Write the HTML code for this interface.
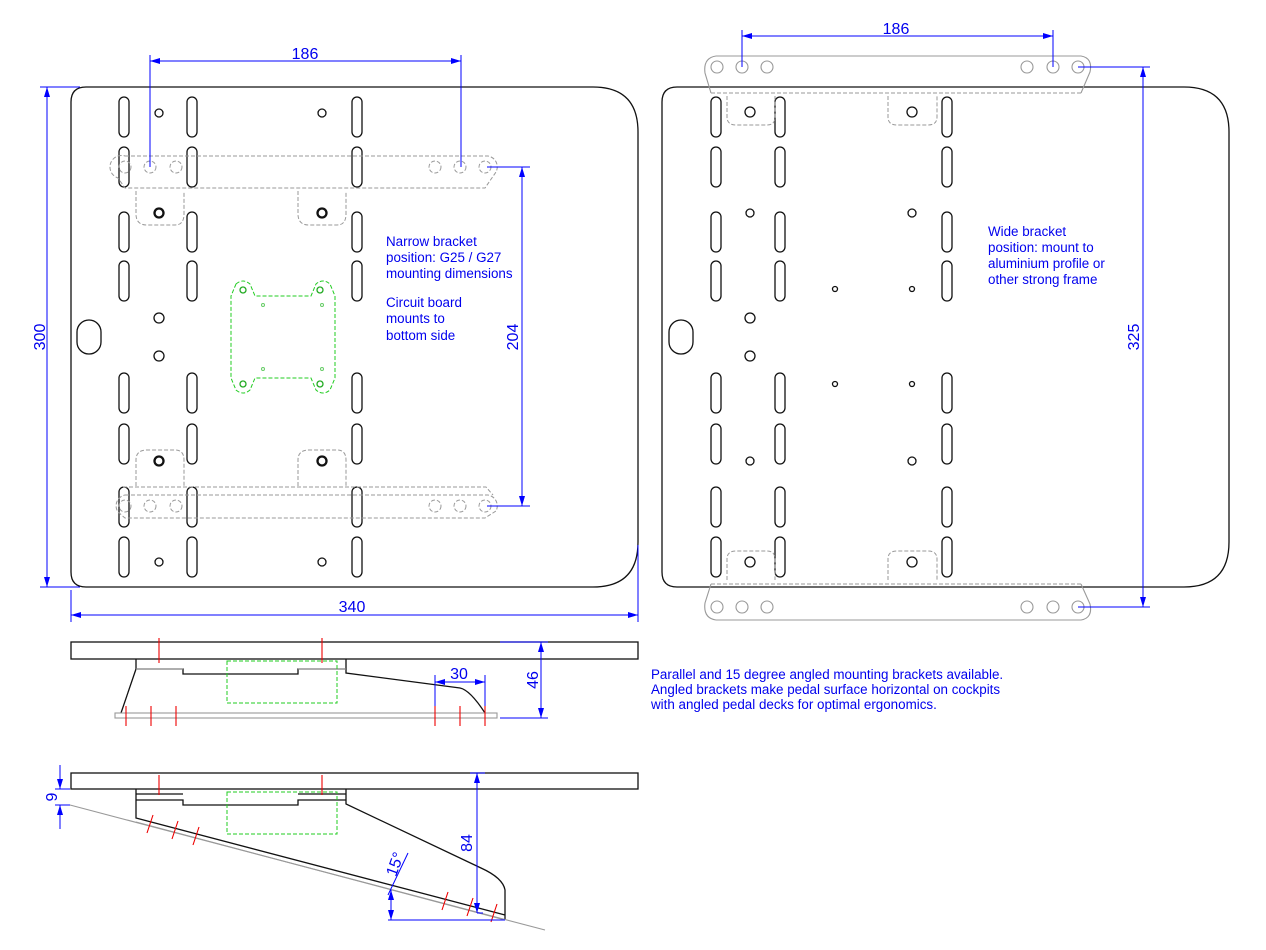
<!DOCTYPE html>
<html><head><meta charset="utf-8"><style>
html,body{margin:0;padding:0;background:#fff;}
svg{display:block;font-family:"Liberation Sans",Arial,sans-serif;}
.k{fill:none;stroke:#111;stroke-width:1.3}
.d{fill:none;stroke:#999;stroke-width:1;stroke-dasharray:4 2}
.g{fill:none;stroke:#999;stroke-width:1.1}
.gr{fill:none;stroke:#2c2;stroke-width:1;stroke-dasharray:4 2}
.b{fill:none;stroke:#00f;stroke-width:1}
.r{stroke:#e00;stroke-width:1.1}
.t{fill:#00e;font-size:13.4px}
.tl{fill:#00e;font-size:16px}
</style></head><body>
<svg width="1266" height="950" viewBox="0 0 1266 950">
<defs>
<rect id="s" x="-5" y="-20" width="10" height="40" rx="5" class="k"/>
<circle id="h" r="4" class="k"/>
<marker id="a" viewBox="0 0 10 6" refX="10" refY="3" markerWidth="10" markerHeight="6" orient="auto-start-reverse" markerUnits="userSpaceOnUse"><path d="M0,0L10,3L0,6z" fill="#00f"/></marker>
</defs>

<!-- LEFT PLATE -->
<path class="k" d="M86,87 H593 Q638,87 638,132 V542 Q638,587 593,587 H86 Q71,587 71,572 V102 Q71,87 86,87 Z"/>
<g>
<use href="#s" x="124" y="117"/><use href="#s" x="124" y="167"/><use href="#s" x="124" y="232"/><use href="#s" x="124" y="281"/>
<use href="#s" x="124" y="393"/><use href="#s" x="124" y="444"/><use href="#s" x="124" y="507"/><use href="#s" x="124" y="557"/>
<use href="#s" x="192" y="117"/><use href="#s" x="192" y="167"/><use href="#s" x="192" y="232"/><use href="#s" x="192" y="281"/>
<use href="#s" x="192" y="393"/><use href="#s" x="192" y="444"/><use href="#s" x="192" y="507"/><use href="#s" x="192" y="557"/>
<use href="#s" x="357" y="117"/><use href="#s" x="357" y="167"/><use href="#s" x="357" y="232"/><use href="#s" x="357" y="281"/>
<use href="#s" x="357" y="393"/><use href="#s" x="357" y="444"/><use href="#s" x="357" y="507"/><use href="#s" x="357" y="557"/>
<use href="#h" x="159" y="113"/><use href="#h" x="322" y="113"/><use href="#h" x="159" y="213"/><use href="#h" x="322" y="213"/>
<use href="#h" x="159" y="461"/><use href="#h" x="322" y="461"/><use href="#h" x="159" y="562"/><use href="#h" x="322" y="562"/>
<circle cx="159" cy="318" r="5" class="k"/><circle cx="159" cy="356" r="5" class="k"/>
<rect x="77" y="320" width="24" height="34" rx="12" class="k"/>
</g>
<path class="d" d="M125,156 H488 A11,11 0 0 1 496,172 L485,188 H125 L118,178 A11,11 0 0 1 125,156 Z"/>
<path class="d" d="M136,191 V214 Q136,225 147,225 H175 Q184,225 184,214 V191 M298,191 V214 Q298,225 309,225 H337 Q346,225 346,214 V191"/>
<g class="d"><circle cx="125" cy="167" r="6"/><circle cx="150" cy="167" r="6"/><circle cx="176" cy="167" r="6"/><circle cx="435" cy="167" r="6"/><circle cx="460" cy="167" r="6"/><circle cx="485" cy="167" r="6"/></g>
<path class="d" d="M125,495 H488 A11,11 0 0 1 496,511 L485,518 H125 L118,512 A11,11 0 0 1 125,495 Z M123,487 H486 L493,495"/>
<path class="d" d="M136,486 V460 Q136,450 147,450 H175 Q184,450 184,460 V486 M298,486 V460 Q298,450 309,450 H337 Q346,450 346,460 V486"/>
<g class="d"><circle cx="125" cy="506" r="6"/><circle cx="150" cy="506" r="6"/><circle cx="176" cy="506" r="6"/><circle cx="435" cy="506" r="6"/><circle cx="460" cy="506" r="6"/><circle cx="485" cy="506" r="6"/></g>
<circle cx="159" cy="213" r="5" class="k"/><circle cx="322" cy="213" r="5" class="k"/><circle cx="159" cy="461" r="5" class="k"/><circle cx="322" cy="461" r="5" class="k"/>
<path class="gr" d="M236,284 Q243,278 250,284 L255,296 H311 L316,284 Q323,278 330,284 L335,296 V378 L330,390 Q323,396 316,390 L311,378 H255 L250,390 Q243,396 236,390 L231,378 V296 Z"/>
<g fill="none" stroke="#2a2" stroke-width="1.3"><circle cx="243" cy="290" r="3"/><circle cx="320" cy="290" r="3"/><circle cx="243" cy="384" r="3"/><circle cx="320" cy="384" r="3"/></g>
<g fill="none" stroke="#6c6" stroke-width="1"><circle cx="263" cy="305" r="1.5"/><circle cx="322" cy="305" r="1.5"/><circle cx="263" cy="369" r="1.5"/><circle cx="322" cy="369" r="1.5"/></g>

<g class="b">
<line x1="150" y1="55" x2="150" y2="167"/><line x1="461" y1="55" x2="461" y2="167"/>
<line x1="150" y1="61" x2="461" y2="61" marker-start="url(#a)" marker-end="url(#a)"/>
<line x1="40" y1="87" x2="80" y2="87"/><line x1="40" y1="587" x2="80" y2="587"/>
<line x1="47" y1="87" x2="47" y2="587" marker-start="url(#a)" marker-end="url(#a)"/>
<line x1="71" y1="590" x2="71" y2="622"/><line x1="638" y1="545" x2="638" y2="622"/>
<line x1="71" y1="615" x2="638" y2="615" marker-start="url(#a)" marker-end="url(#a)"/>
<line x1="487" y1="167" x2="530" y2="167"/><line x1="487" y1="506" x2="530" y2="506"/>
<line x1="522" y1="167" x2="522" y2="506" marker-start="url(#a)" marker-end="url(#a)"/>
</g>
<text class="tl" x="305" y="59" text-anchor="middle">186</text>
<text class="tl" x="352" y="612" text-anchor="middle">340</text>
<text class="tl" transform="translate(45,337) rotate(-90)" text-anchor="middle">300</text>
<text class="tl" transform="translate(518,337) rotate(-90)" text-anchor="middle">204</text>
<text class="t" x="386" y="246">Narrow bracket</text>
<text class="t" x="386" y="262">position: G25 / G27</text>
<text class="t" x="386" y="278">mounting dimensions</text>
<text class="t" x="386" y="307">Circuit board</text>
<text class="t" x="386" y="323">mounts to</text>
<text class="t" x="386" y="340">bottom side</text>

<!-- RIGHT PLATE -->
<path class="k" d="M677,87 H1184 Q1229,87 1229,132 V542 Q1229,587 1184,587 H677 Q662,587 662,572 V102 Q662,87 677,87 Z"/>
<g>
<use href="#s" x="716" y="117"/><use href="#s" x="716" y="167"/><use href="#s" x="716" y="232"/><use href="#s" x="716" y="281"/>
<use href="#s" x="716" y="393"/><use href="#s" x="716" y="444"/><use href="#s" x="716" y="507"/><use href="#s" x="716" y="557"/>
<use href="#s" x="780" y="117"/><use href="#s" x="780" y="167"/><use href="#s" x="780" y="232"/><use href="#s" x="780" y="281"/>
<use href="#s" x="780" y="393"/><use href="#s" x="780" y="444"/><use href="#s" x="780" y="507"/><use href="#s" x="780" y="557"/>
<use href="#s" x="947" y="117"/><use href="#s" x="947" y="167"/><use href="#s" x="947" y="232"/><use href="#s" x="947" y="281"/>
<use href="#s" x="947" y="393"/><use href="#s" x="947" y="444"/><use href="#s" x="947" y="507"/><use href="#s" x="947" y="557"/>
<use href="#h" x="750" y="213"/><use href="#h" x="912" y="213"/><use href="#h" x="750" y="461"/><use href="#h" x="912" y="461"/>
<circle cx="835" cy="289" r="2.5" class="k"/><circle cx="912" cy="289" r="2.5" class="k"/><circle cx="835" cy="384" r="2.5" class="k"/><circle cx="912" cy="384" r="2.5" class="k"/>
<circle cx="750" cy="318" r="5" class="k"/><circle cx="750" cy="356" r="5" class="k"/>
<rect x="669" y="320" width="24" height="34" rx="12" class="k"/>
</g>
<path class="g" d="M716,56 H1081 Q1093,58 1090,72 L1081,93 M711,93 L705,73 Q703,58 716,56"/>
<path class="d" d="M711,93 H1081 M727,96 V117 Q727,125 736,125 H767 Q775,125 775,117 V96 M888,96 V117 Q888,125 897,125 H928 Q937,125 937,117 V96"/>
<g class="g"><circle cx="717" cy="67" r="6"/><circle cx="742" cy="67" r="6"/><circle cx="767" cy="67" r="6"/><circle cx="1027" cy="67" r="6"/><circle cx="1053" cy="67" r="6"/><circle cx="1078" cy="67" r="6"/></g>
<path class="g" d="M716,620 H1081 Q1093,618 1090,604 L1081,584 M711,584 L705,603 Q703,618 716,620"/>
<path class="d" d="M711,584 H1081 M727,580 V559 Q727,551 736,551 H767 Q775,551 775,559 V580 M888,580 V559 Q888,551 897,551 H928 Q937,551 937,559 V580"/>
<g class="g"><circle cx="717" cy="607" r="6"/><circle cx="742" cy="607" r="6"/><circle cx="767" cy="607" r="6"/><circle cx="1027" cy="607" r="6"/><circle cx="1053" cy="607" r="6"/><circle cx="1078" cy="607" r="6"/></g>
<circle cx="750" cy="112" r="5" class="k"/><circle cx="912" cy="112" r="5" class="k"/><circle cx="750" cy="562" r="5" class="k"/><circle cx="912" cy="562" r="5" class="k"/>
<g class="b">
<line x1="742" y1="30" x2="742" y2="67"/><line x1="1053" y1="30" x2="1053" y2="67"/>
<line x1="742" y1="36" x2="1053" y2="36" marker-start="url(#a)" marker-end="url(#a)"/>
<line x1="1078" y1="67" x2="1150" y2="67"/><line x1="1078" y1="607" x2="1150" y2="607"/>
<line x1="1143" y1="67" x2="1143" y2="607" marker-start="url(#a)" marker-end="url(#a)"/>
</g>
<text class="tl" x="896" y="34" text-anchor="middle">186</text>
<text class="tl" transform="translate(1139,337) rotate(-90)" text-anchor="middle">325</text>
<text class="t" x="988" y="236">Wide bracket</text>
<text class="t" x="988" y="252">position: mount to</text>
<text class="t" x="988" y="268">aluminium profile or</text>
<text class="t" x="988" y="284">other strong frame</text>
<text class="t" x="651" y="679" font-size="12">Parallel and 15 degree angled mounting brackets available.</text>
<text class="t" x="651" y="694" font-size="12">Angled brackets make pedal surface horizontal on cockpits</text>
<text class="t" x="651" y="709" font-size="12">with angled pedal decks for optimal ergonomics.</text>

<!-- SIDE VIEW 1 -->
<rect x="71" y="642" width="567" height="17" class="k"/>
<path class="k" d="M136,659 V669 H183 V674 H298 V669 H346 V659 M346,659 V673 L460,688 Q470,690 485,713 M136,669 L121,713"/>
<line x1="136" y1="669" x2="183" y2="669" class="g"/><line x1="298" y1="669" x2="346" y2="669" class="g"/>
<rect x="115" y="713" width="382" height="5" class="g"/>
<rect x="227" y="661" width="110" height="42" class="gr"/>
<g class="r"><line x1="159" y1="638" x2="159" y2="663"/><line x1="322" y1="638" x2="322" y2="663"/>
<line x1="126" y1="706" x2="126" y2="726"/><line x1="151" y1="706" x2="151" y2="726"/><line x1="176" y1="706" x2="176" y2="726"/>
<line x1="435" y1="706" x2="435" y2="726"/><line x1="460" y1="706" x2="460" y2="726"/><line x1="485" y1="706" x2="485" y2="726"/></g>
<g class="b">
<line x1="435" y1="675" x2="435" y2="706"/><line x1="485" y1="675" x2="485" y2="706"/>
<line x1="435" y1="682" x2="485" y2="682" marker-start="url(#a)" marker-end="url(#a)"/>
<line x1="500" y1="642" x2="548" y2="642"/><line x1="500" y1="718" x2="548" y2="718"/>
<line x1="541" y1="642" x2="541" y2="718" marker-start="url(#a)" marker-end="url(#a)"/>
</g>
<text class="tl" x="459" y="679" text-anchor="middle">30</text>
<text class="tl" transform="translate(538,680) rotate(-90)" text-anchor="middle">46</text>

<!-- SIDE VIEW 2 -->
<rect x="71" y="773" width="567" height="16" class="k"/>
<path class="k" d="M136,789 V800 H183 V805 H298 V800 H346 V789 M346,789 V804 L481,868 Q503,878 505,890 V920 M136,800 V818 L505,915"/>
<line x1="136" y1="794" x2="183" y2="794" class="k"/><line x1="298" y1="794" x2="346" y2="794" class="k"/>
<line x1="136" y1="822" x2="505" y2="920" class="g"/>
<line x1="70" y1="805" x2="545" y2="930" class="g"/>
<rect x="227" y="792" width="110" height="42" class="gr"/>
<g class="r"><line x1="159" y1="775" x2="159" y2="795"/><line x1="322" y1="775" x2="322" y2="795"/>
<line x1="153" y1="815" x2="147" y2="833"/><line x1="178" y1="821" x2="172" y2="839"/><line x1="199" y1="827" x2="193" y2="845"/>
<line x1="448" y1="892" x2="442" y2="910"/><line x1="473" y1="898" x2="467" y2="916"/><line x1="497" y1="904" x2="491" y2="922"/></g>
<g class="b">
<line x1="470" y1="773" x2="485" y2="773"/>
<line x1="477" y1="773" x2="477" y2="913" marker-start="url(#a)" marker-end="url(#a)"/>
<line x1="477" y1="913" x2="483" y2="913"/>
<line x1="388" y1="920" x2="505" y2="920"/>
<line x1="391" y1="890" x2="391" y2="920" marker-start="url(#a)" marker-end="url(#a)"/>
<line x1="388" y1="895" x2="408" y2="853"/>
<line x1="55" y1="789" x2="70" y2="789"/><line x1="55" y1="805" x2="70" y2="805"/>
<line x1="60" y1="765" x2="60" y2="789" marker-end="url(#a)"/><line x1="60" y1="829" x2="60" y2="805" marker-end="url(#a)"/>
</g>
<text class="tl" transform="translate(472,843) rotate(-90)" text-anchor="middle">84</text>
<text class="tl" transform="translate(400,866) rotate(-70)" text-anchor="middle">15°</text>
<text class="tl" transform="translate(57,797) rotate(-90)" text-anchor="middle">9</text>
</svg>
</body></html>
